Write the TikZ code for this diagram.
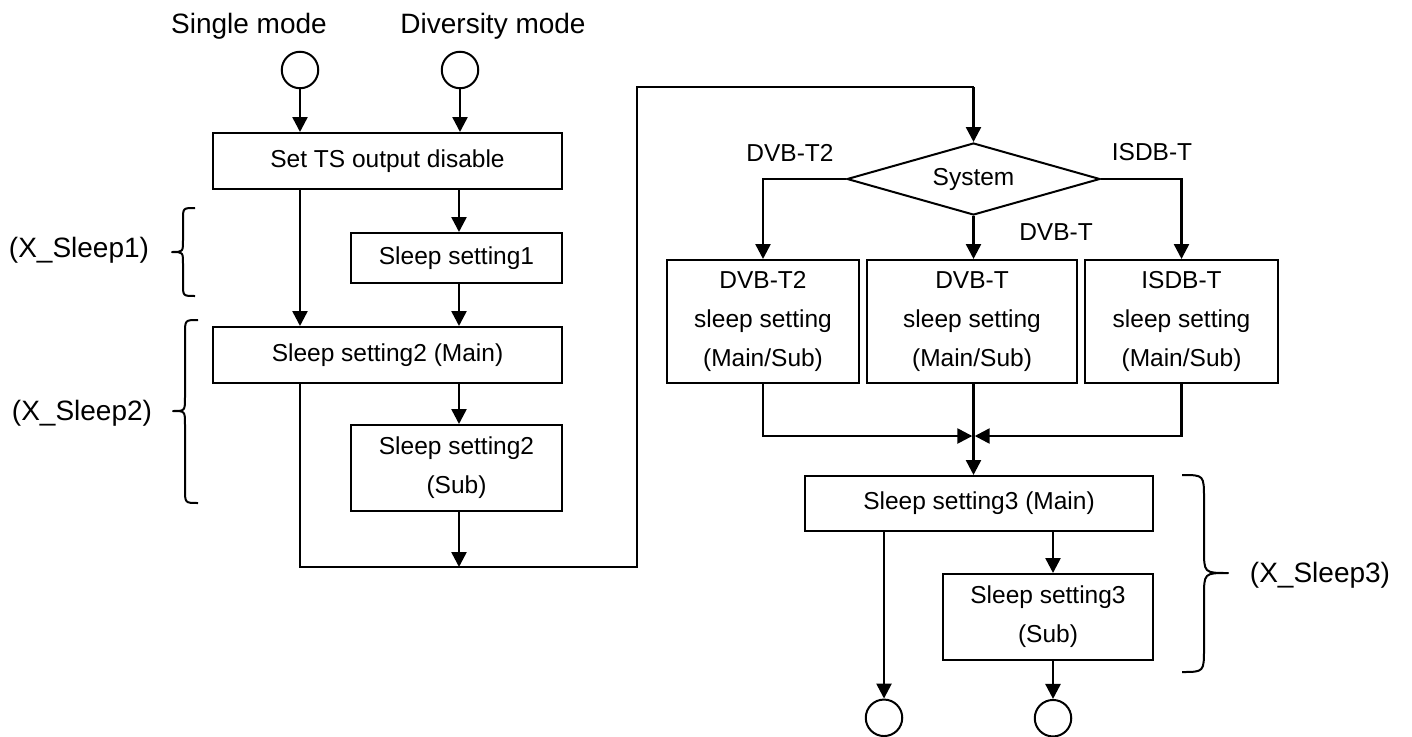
\documentclass[tikz,border=0pt]{standalone}
\usepackage{fontspec}
\setmainfont{Liberation Sans}
\usetikzlibrary{arrows.meta,shapes.geometric}

\begin{document}
\begin{tikzpicture}[x=1pt,y=-1pt,
  box/.style={draw,line width=2pt,inner sep=0pt,align=center,
    font=\fontsize{24.5}{39}\selectfont},
  term/.style={draw,circle,line width=2pt,minimum size=36.5pt,inner sep=0pt},
  flow/.style={line width=2.5pt,-{Triangle[length=15pt,width=15pt]}},
  link/.style={line width=2pt},
  lbl/.style={font=\fontsize{28}{34}\selectfont,inner sep=0pt,anchor=base},
  cond/.style={font=\fontsize{24.5}{30}\selectfont,inner sep=0pt,anchor=base},
  grp/.style={line width=2pt,line join=round}
]
\useasboundingbox (0,0) rectangle (1412,736);

% entry points
\node[lbl] (lsingle) at (249,33) {Single mode};
\node[lbl] (ldiv) at (493,33) {Diversity mode};
\node[term] (inS) at (300,70) {};
\node[term] (inD) at (460,70) {};

% columns of the left part
\coordinate (cL) at (300,0);
\coordinate (cR) at (459,0);

% left part: boxes
\node[box,minimum width=349pt,minimum height=56pt] (ts) at (387.5,161) {Set TS output disable};
\node[box,minimum width=211pt,minimum height=50pt] (s1) at (456.5,258) {Sleep setting1};
\node[box,minimum width=349pt,minimum height=56pt] (s2m) at (387.5,355) {Sleep setting2 (Main)};
\node[box,minimum width=211pt,minimum height=86pt] (s2s) at (456.5,468) {Sleep setting2\\(Sub)};

% left part: connectors
\draw[flow] (inS) -- (inS |- ts.north);
\draw[flow] (inD) -- (inD |- ts.north);
\draw[flow] (ts.south -| cL) -- (s2m.north -| cL);
\draw[flow] (ts.south -| cR) -- (s1.north -| cR);
\draw[flow] (s1.south -| cR) -- (s2m.north -| cR);
\draw[flow] (s2m.south -| cR) -- (s2s.north -| cR);

% return path to the system decision
\coordinate (jB) at (459,567);
\coordinate (jR) at (637,567);
\coordinate (jT) at (637,87);
\draw[flow] (s2s.south -| cR) -- (jB);

% system decision
\node[draw,diamond,line width=2pt,aspect=3.5,minimum width=253pt,minimum height=72pt,
  inner sep=0pt,font=\fontsize{24.5}{30}\selectfont] (sys) at (973.5,179) {System};
\draw[link] (s2m.south -| cL) |- (jR) -- (jT) -- (sys.north |- jT);
\draw[flow] (sys.north |- jT) -- (sys.north);

% per-system boxes
\node[box,minimum width=192pt,minimum height=123pt] (t2) at (763,321.5) {DVB-T2\\sleep setting\\(Main/Sub)};
\node[box,minimum width=210pt,minimum height=123pt] (t) at (972,321.5) {DVB-T\\sleep setting\\(Main/Sub)};
\node[box,minimum width=193pt,minimum height=123pt] (isdb) at (1181.5,321.5) {ISDB-T\\sleep setting\\(Main/Sub)};

\draw[flow] (sys.west) -| (t2.north);
\draw[flow] (sys.south) -- (sys.south |- t.north);
\draw[flow] (sys.east) -| (isdb.north);

\node[cond] (bT2) at (790,161) {DVB-T2};
\node[cond] (bT) at (1056,240) {DVB-T};
\node[cond] (bIS) at (1152,160) {ISDB-T};

% sleep setting 3
\node[box,minimum width=348pt,minimum height=55pt] (s3m) at (979,503.5) {Sleep setting3 (Main)};
\node[box,minimum width=210pt,minimum height=86pt] (s3s) at (1048,617) {Sleep setting3\\(Sub)};

% merge of the three branches
\coordinate (mL) at (972.3,436);
\coordinate (mR) at (974.7,436);
\draw[flow] (t2.south) |- (mL);
\draw[flow] (isdb.south) |- (mR);
\draw[flow] (sys.south |- t.south) -- (sys.south |- s3m.north);

% exits
\node[term] (outM) at (884,717.8) {};
\node[term] (outS) at (1053,718.2) {};
\draw[flow] (s3m.south -| outM) -- (outM.north);
\draw[flow] (s3m.south -| outS) -- (s3s.north -| outS);
\draw[flow] (s3s.south -| outS) -- (outS.north);

% group braces
\draw[grp] (195,208) .. controls (183,208) .. (183,220) -- (183,240)
  .. controls (183,252) .. (172,252) .. controls (183,252) .. (183,264)
  -- (183,284) .. controls (183,296) .. (195,296);
\draw[grp] (198,320) .. controls (185,320) .. (185,334) -- (185,397)
  .. controls (185,411) .. (173,411) .. controls (185,411) .. (185,425)
  -- (185,489) .. controls (185,503) .. (198,503);
\draw[grp] (1182,475) .. controls (1204,475) .. (1204,499) -- (1204,549)
  .. controls (1204,573) .. (1228,573) .. controls (1204,573) .. (1204,597)
  -- (1204,648) .. controls (1204,672) .. (1182,672);
\node[lbl] (g1) at (79,257) {(X\_Sleep1)};
\node[lbl] (g2) at (82,420) {(X\_Sleep2)};
\node[lbl] (g3) at (1320,582) {(X\_Sleep3)};
\end{tikzpicture}
\end{document}
